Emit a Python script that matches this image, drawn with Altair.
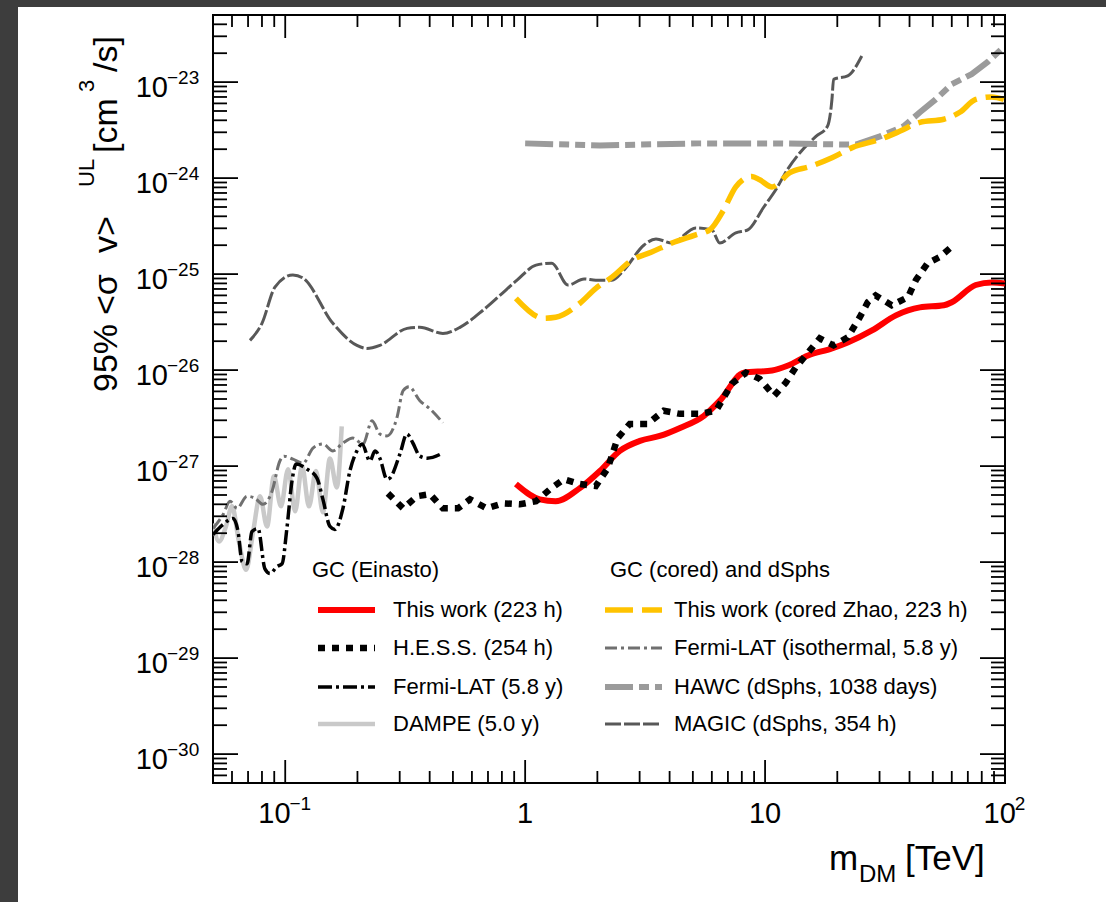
import altair as alt
import pandas as pd

# ---------------------------------------------------------------------------
# Upper limits on the DM annihilation cross section: mass [TeV] vs <sigma v> [cm^3/s]
# ---------------------------------------------------------------------------
this_work_m = [0.915, 1.15, 1.34, 1.69, 2.05, 2.48, 3.01, 3.64, 4.42, 5.56, 6.48, 8.15, 10.7,
               12.4, 15.1, 19.0, 22.1, 27.9, 35.1, 44.2, 55.6, 60.0, 75.5, 88.1, 100.0]
this_work_sv = [6.5e-28, 4.5e-28, 4.3e-28, 5.9e-28, 8.9e-28, 1.44e-27, 1.83e-27, 2.06e-27, 2.5e-27,
                3.34e-27, 4.8e-27, 9.4e-27, 9.9e-27, 1.11e-26, 1.42e-26, 1.68e-26, 1.94e-26, 2.59e-26,
                3.72e-26, 4.5e-26, 4.73e-26, 5.1e-26, 7.7e-26, 8.2e-26, 8.0e-26]

hess_m = [0.268, 0.31, 0.354, 0.401, 0.454, 0.525, 0.589, 0.693, 0.808, 0.95, 1.11, 1.27, 1.45,
          1.69, 1.97, 2.21, 2.43, 2.73, 3.24, 3.78, 4.42, 5.35, 6.24, 7.27, 8.32, 9.5, 10.9, 12.2,
          13.4, 15.1, 16.9, 19.3, 22.1, 24.8, 26.8, 28.9, 33.7, 39.4, 42.5, 47.6, 53.5, 61.1]
hess_sv = [5.2e-28, 3.63e-28, 4.85e-28, 5.1e-28, 3.63e-28, 3.63e-28, 4.5e-28, 3.63e-28, 4.1e-28,
           4.0e-28, 4.3e-28, 5.75e-28, 7.3e-28, 6.5e-28, 6.2e-28, 9.5e-28, 1.96e-27, 2.75e-27,
           2.75e-27, 3.77e-27, 3.5e-27, 3.5e-27, 3.77e-27, 7.2e-27, 9.4e-27, 8.1e-27, 5.4e-27,
           7.4e-27, 1.06e-26, 1.52e-26, 2.14e-26, 1.81e-26, 2.19e-26, 3.55e-26, 5.1e-26, 6.0e-26,
           4.73e-26, 5.75e-26, 8.65e-26, 1.30e-25, 1.51e-25, 2.01e-25]

fermi_m = [0.05, 0.0551, 0.0606, 0.0636, 0.0661, 0.0693, 0.0727, 0.077, 0.0823, 0.0864, 0.0925,
           0.097, 0.1016, 0.1067, 0.111, 0.1233, 0.1356, 0.1436, 0.1536, 0.161, 0.174, 0.186,
           0.199, 0.209, 0.2255, 0.2366, 0.248, 0.2655, 0.273, 0.3007, 0.3214, 0.3404, 0.364,
           0.39, 0.454]
fermi_sv = [1.94e-28, 2.47e-28, 2.85e-28, 2.08e-28, 1.01e-28, 9.6e-29, 2.08e-28, 2.24e-28, 8.5e-29,
            7.6e-29, 9.0e-29, 9.6e-29, 2.24e-28, 6.97e-28, 1.05e-27, 9.3e-28, 7.5e-28, 4.5e-28,
            2.35e-28, 2.19e-28, 3.63e-28, 8.9e-28, 1.44e-27, 1.70e-27, 1.13e-27, 1.44e-27,
            1.21e-27, 7.3e-28, 7.5e-28, 1.34e-27, 2.16e-27, 1.74e-27, 1.27e-27, 1.21e-27, 1.37e-27]

dampe_m = [0.05, 0.053, 0.0566, 0.06, 0.0641, 0.0687, 0.0735, 0.0785, 0.084, 0.0897, 0.096,
           0.1028, 0.110, 0.1175, 0.1256, 0.1343, 0.1436, 0.1536, 0.164, 0.172]
dampe_sv = [2.53e-28, 1.64e-28, 2.35e-28, 3.81e-28, 1.64e-28, 8.3e-29, 2.08e-28, 4.85e-28,
            2.35e-28, 7.85e-28, 3.81e-28, 9.3e-28, 3.38e-28, 1.0e-27, 3.81e-28, 8.9e-28,
            3.3e-28, 1.2e-27, 6.0e-28, 2.6e-27]

cored_m = [0.915, 1.20, 1.34, 1.69, 1.97, 2.30, 2.79, 3.37, 4.09, 5.14, 5.89, 6.73, 7.55, 8.81,
           9.5, 10.7, 12.7, 15.4, 19.1, 23.2, 30.1, 36.4, 44.2, 55.6, 64.8, 75.5, 88.1, 98.9]
cored_sv = [5.6e-26, 3.47e-26, 3.55e-26, 4.97e-26, 7.1e-26, 9.3e-26, 1.40e-25, 1.70e-25, 2.11e-25,
            2.56e-25, 2.9e-25, 4.7e-25, 8.1e-25, 1.04e-24, 9.6e-25, 8.1e-25, 1.14e-24, 1.32e-24,
            1.64e-24, 2.09e-24, 2.53e-24, 3.07e-24, 3.81e-24, 4.1e-24, 4.85e-24, 6.6e-24, 7.0e-24,
            6.6e-24]

fermi_iso_m = [0.05, 0.0551, 0.0589, 0.063, 0.0693, 0.0748, 0.0807, 0.0881, 0.095, 0.0988, 0.1076,
               0.1186, 0.1305, 0.1436, 0.158, 0.174, 0.1915, 0.211, 0.230, 0.248, 0.2655, 0.292,
               0.31, 0.328, 0.364, 0.401, 0.454]
fermi_iso_sv = [2.24e-28, 3.14e-28, 4.3e-28, 3.63e-28, 4.85e-28, 4.62e-28, 4.0e-28, 5.47e-28,
                1.13e-27, 1.27e-27, 1.18e-27, 1.07e-27, 1.54e-27, 1.70e-27, 1.44e-27, 1.74e-27,
                1.96e-27, 1.70e-27, 2.96e-27, 2.16e-27, 2.06e-27, 3.18e-27, 6.1e-27, 6.7e-27,
                4.8e-27, 3.95e-27, 2.82e-27]

hawc_m = [1.0, 2.05, 5.35, 11.5, 20.5, 23.9, 30.1, 37.8, 44.2, 51.4, 60.0, 72.6, 84.7, 98.9]
hawc_sv = [2.3e-24, 2.19e-24, 2.3e-24, 2.3e-24, 2.24e-24, 2.24e-24, 2.72e-24, 3.46e-24, 4.85e-24,
           6.6e-24, 9.5e-24, 1.21e-23, 1.62e-23, 2.33e-23]

magic_m = [0.0713, 0.080, 0.0906, 0.1076, 0.1185, 0.158, 0.199, 0.219, 0.248, 0.322, 0.364, 0.454,
           0.535, 0.667, 0.785, 0.925, 1.11, 1.29, 1.51, 1.76, 1.97, 2.30, 2.58, 3.13, 3.51, 4.09,
           5.14, 6.0, 6.47, 7.55, 8.47, 9.88, 11.1, 12.4, 14.0, 16.3, 18.2, 19.0, 19.3, 22.1, 25.3]
magic_sv = [2.04e-26, 3.07e-26, 7.3e-26, 9.8e-26, 9.1e-26, 3.07e-26, 1.81e-26, 1.68e-26, 1.81e-26,
            2.72e-26, 2.79e-26, 2.41e-26, 2.79e-26, 4.2e-26, 6.0e-26, 8.65e-26, 1.24e-25, 1.30e-25,
            7.7e-26, 8.9e-26, 8.65e-26, 8.65e-26, 1.10e-25, 2.01e-25, 2.32e-25, 2.11e-25, 3.03e-25,
            2.89e-25, 2.11e-25, 2.69e-25, 2.89e-25, 5.0e-25, 7.6e-25, 1.23e-24, 1.85e-24, 2.72e-24,
            3.46e-24, 6.6e-24, 1.07e-23, 1.16e-23, 1.87e-23]

# axis ticks
x_major = [0.1, 1, 10, 100]
y_exponents = [-30, -29, -28, -27, -26, -25, -24, -23]

# ---------------------------------------------------------------------------
# Styling
# ---------------------------------------------------------------------------
FONT = "Liberation Sans"
W, H = 792, 768
X_MIN, X_MAX = 0.05, 100
Y_MIN, Y_MAX = 5e-31, 5e-23

xs = alt.Scale(type="log", domain=[X_MIN, X_MAX])
ys = alt.Scale(type="log", domain=[Y_MIN, Y_MAX])

# name, mass, sv, colour, width, dash, interpolation, legend column, legend row
series = [
    ("DAMPE (5.0 y)", dampe_m, dampe_sv, "#c9c9c9", 4.5, None, "monotone", 0, 3),
    ("Fermi-LAT (isothermal, 5.8 y)", fermi_iso_m, fermi_iso_sv, "#707070", 3, [12, 4, 3, 4], "monotone", 1, 1),
    ("Fermi-LAT (5.8 y)", fermi_m, fermi_sv, "#000000", 3.5, [14, 4, 3, 4], "monotone", 0, 2),
    ("MAGIC (dSphs, 354 h)", magic_m, magic_sv, "#585858", 3, [16, 3], "monotone", 1, 3),
    ("HAWC (dSphs, 1038 days)", hawc_m, hawc_sv, "#9b9b9b", 6, [28, 6, 10, 6, 10, 6], "linear", 1, 2),
    ("This work (cored Zhao, 223 h)", cored_m, cored_sv, "#ffc300", 5.5, [28, 9], "monotone", 1, 0),
    ("This work (223 h)", this_work_m, this_work_sv, "#ff0000", 6, None, "monotone", 0, 0),
    ("H.E.S.S. (254 h)", hess_m, hess_sv, "#000000", 6.5, [7, 7], "linear", 0, 1),
]

one_row = pd.DataFrame({"k": [0]})
layers = []

# dark frame bands around the figure
for x0, x1, y0, y1 in [(-213, -195, -15, 887), (-213, 893, -15, -8)]:
    layers.append(alt.Chart(one_row).mark_rect(color="#3d3d3d").encode(
        x=alt.value(x0), x2=alt.value(x1), y=alt.value(y0), y2=alt.value(y1)))

# ---------------------------------------------------------------------------
# Limit curves
# ---------------------------------------------------------------------------
for name, m, sv, col, sw, dash, interp, _, _ in series:
    df = pd.DataFrame({"m": m, "sv": sv, "i": range(len(m))})
    props = dict(color=col, strokeWidth=sw, interpolate=interp, clip=True)
    if dash:
        props["strokeDash"] = dash
    layers.append(alt.Chart(df).mark_line(**props).encode(
        x=alt.X("m:Q", scale=xs, axis=None),
        y=alt.Y("sv:Q", scale=ys, axis=None),
        order="i:Q"))

# ---------------------------------------------------------------------------
# Inward ticks on all four sides
# ---------------------------------------------------------------------------
x_minor = [k * 10.0 ** e for e in range(-2, 2) for k in range(2, 10) if X_MIN <= k * 10.0 ** e < X_MAX]
y_major = [10.0 ** e for e in y_exponents]
y_minor = [k * 10.0 ** e for e in range(-31, -22) for k in range(2, 10) if Y_MIN <= k * 10.0 ** e <= Y_MAX]

TICK = dict(color="black", strokeWidth=1.8)
for vals, ln in [(x_major, 23), (x_minor, 12)]:
    d = pd.DataFrame({"v": vals})
    layers.append(alt.Chart(d).mark_rule(**TICK).encode(
        x=alt.X("v:Q", scale=xs, axis=None), y=alt.value(H), y2=alt.value(H - ln)))
    layers.append(alt.Chart(d).mark_rule(**TICK).encode(
        x=alt.X("v:Q", scale=xs, axis=None), y=alt.value(0), y2=alt.value(ln)))
for vals, ln in [(y_major, 25), (y_minor, 14)]:
    d = pd.DataFrame({"v": vals})
    layers.append(alt.Chart(d).mark_rule(**TICK).encode(
        y=alt.Y("v:Q", scale=ys, axis=None), x=alt.value(0), x2=alt.value(ln)))
    layers.append(alt.Chart(d).mark_rule(**TICK).encode(
        y=alt.Y("v:Q", scale=ys, axis=None), x=alt.value(W), x2=alt.value(W - ln)))

# ---------------------------------------------------------------------------
# Tick labels (10 with a raised exponent)
# ---------------------------------------------------------------------------
ylab = pd.DataFrame({"v": y_major, "e": ["\u2212%d" % -e for e in y_exponents]})
layers.append(alt.Chart(ylab).mark_text(align="right", baseline="middle", font=FONT, fontSize=29,
                                        dy=6, color="black").encode(
    y=alt.Y("v:Q", scale=ys, axis=None), x=alt.value(-45), text=alt.value("10")))
layers.append(alt.Chart(ylab).mark_text(align="left", baseline="middle", font=FONT, fontSize=19,
                                        dy=-4, color="black").encode(
    y=alt.Y("v:Q", scale=ys, axis=None), x=alt.value(-46), text="e:N"))

XLAB_Y = 799
for val, base, sup in [(0.1, "10", "\u22121"), (1, "1", ""), (10, "10", ""), (100, "10", "2")]:
    d = pd.DataFrame({"v": [val]})
    if sup:
        w_sup = (0.584 * (sup[0] == "\u2212") + 0.556 * (len(sup) - (sup[0] == "\u2212"))) * 19
        shift = (1.112 * 29 - w_sup) / 2
        layers.append(alt.Chart(d).mark_text(align="right", baseline="middle", font=FONT, fontSize=29,
                                             dx=shift, color="black").encode(
            x=alt.X("v:Q", scale=xs, axis=None), y=alt.value(XLAB_Y), text=alt.value(base)))
        layers.append(alt.Chart(d).mark_text(align="left", baseline="middle", font=FONT, fontSize=19,
                                             dx=shift - 1, color="black").encode(
            x=alt.X("v:Q", scale=xs, axis=None), y=alt.value(XLAB_Y - 10), text=alt.value(sup)))
    else:
        layers.append(alt.Chart(d).mark_text(align="center", baseline="middle", font=FONT, fontSize=29,
                                             color="black").encode(
            x=alt.X("v:Q", scale=xs, axis=None), y=alt.value(XLAB_Y), text=alt.value(base)))

# ---------------------------------------------------------------------------
# Axis titles
# ---------------------------------------------------------------------------
def txt(s, x, y, size, align="left", baseline="alphabetic", angle=0):
    return alt.Chart(one_row).mark_text(align=align, baseline=baseline, font=FONT, fontSize=size,
                                        angle=angle, color="black").encode(
        x=alt.value(x), y=alt.value(y), text=alt.value(s))

layers += [
    txt("m", 616, 855, 35),
    txt("DM", 646, 867, 24),
    txt("[TeV]", 692, 855, 35),
]
# rotated y title, laid out piece by piece from the bottom up
YT_X, YT_SUP_X = -96, -119
layers += [
    txt("95%", YT_X, 377, 34, angle=270),
    txt("<\u03c3", YT_X, 300, 34, angle=270),
    txt("v>", YT_X, 238, 34, angle=270),
    txt("UL", YT_SUP_X, 172, 22, angle=270),
    txt("[cm", YT_X, 138, 34, angle=270),
    txt("3", YT_SUP_X, 77, 22, angle=270),
    txt("/s]", YT_X, 57, 34, angle=270),
]

# ---------------------------------------------------------------------------
# Legend (two columns with headings)
# ---------------------------------------------------------------------------
LEG_FS = 22
col_sym_x = [105, 392]
col_lab_x = [180, 461]
row_y = [595, 633, 672, 709]
layers += [
    txt("GC (Einasto)", 99, 555, LEG_FS, baseline="middle"),
    txt("GC (cored) and dSphs", 397, 555, LEG_FS, baseline="middle"),
]
for name, m, sv, col, sw, dash, interp, c, r in series:
    props = dict(color=col, strokeWidth=sw)
    if dash:
        props["strokeDash"] = dash
    layers.append(alt.Chart(one_row).mark_rule(**props).encode(
        x=alt.value(col_sym_x[c]), x2=alt.value(col_sym_x[c] + 57), y=alt.value(row_y[r])))
    layers.append(txt(name, col_lab_x[c], row_y[r], LEG_FS, baseline="middle"))

chart = alt.layer(*layers).properties(
    width=W, height=H,
    padding={"left": 213, "top": 15, "right": 101, "bottom": 119},
    autosize=alt.AutoSizeParams(type="none"),
    background="white",
).configure_view(stroke="black", strokeWidth=2)

chart.save("out.html", embed_options={"renderer": "svg", "actions": False})
